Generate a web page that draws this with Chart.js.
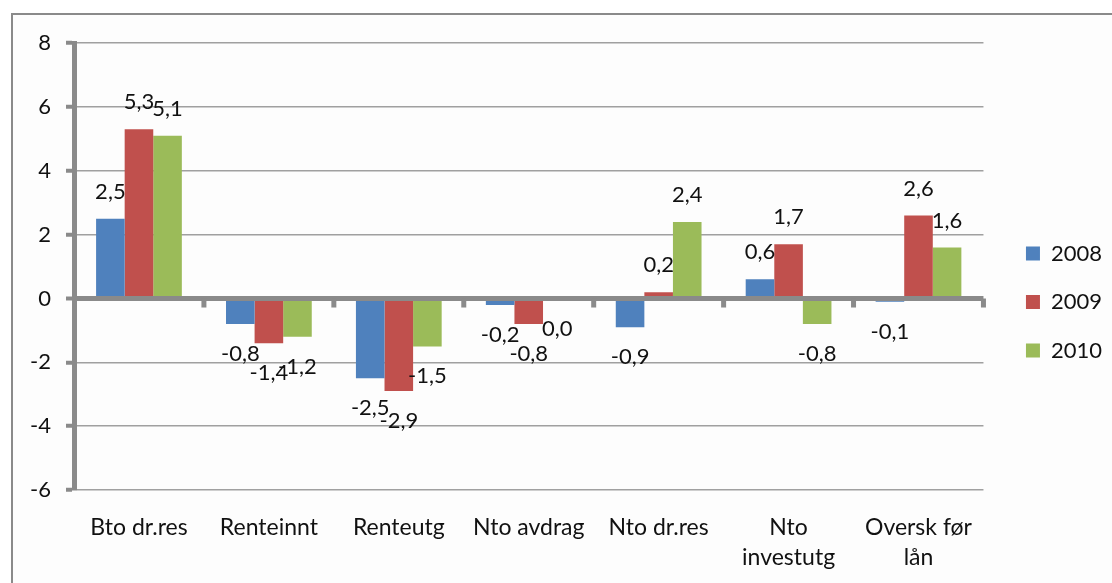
<!DOCTYPE html>
<html>
<head>
<meta charset="utf-8">
<script src="https://cdn.jsdelivr.net/npm/chart.js@4.4.0/dist/chart.umd.min.js"></script>
<style>
  body { margin: 0; background: #fff; }
  #frame {
    position: absolute; left: 11px; top: 13px;
    width: 1101px; height: 570px;
    border-top: 2px solid #8a8a8a; border-left: 2px solid #8a8a8a;
    background: #fdfdfd;
  }
  #frame canvas { display: block; }
</style>
</head>
<body>
<div id="frame"><canvas id="chart" width="1099" height="568"></canvas></div>
<script>
var categories = ["Bto dr.res", "Renteinnt", "Renteutg", "Nto avdrag", "Nto dr.res", ["Nto", "investutg"], ["Oversk før", "lån"]];
var years = ["2008", "2009", "2010"];
var v2008 = [2.5, -0.8, -2.5, -0.2, -0.9, 0.6, -0.1];
var v2009 = [5.3, -1.4, -2.9, -0.8, 0.2, 1.7, 2.6];
var v2010 = [5.1, -1.2, -1.5, 0.0, 2.4, -0.8, 1.6];
var yTicks = [-6, -4, -2, 0, 2, 4, 6, 8];

var axisGrey = "#8a8a8a";
var fontFamily = "Lato, 'Open Sans', sans-serif";

// bar value labels, Excel style "outside end", decimal comma
var valueLabels = {
    id: 'valueLabels',
    afterDatasetsDraw: function(chart) {
        var ctx = chart.ctx;
        ctx.save();
        ctx.font = "22px " + fontFamily;
        ctx.fillStyle = "#111";
        ctx.textAlign = "center";
        ctx.textBaseline = "middle";
        chart.data.datasets.forEach(function(ds, i) {
            chart.getDatasetMeta(i).data.forEach(function(bar, j) {
                var v = ds.data[j];
                var txt = v.toFixed(1).replace(".", ",");
                var y = v > 0 ? bar.y - 27 : bar.y + 30;
                ctx.fillText(txt, bar.x, y);
            });
        });
        ctx.restore();
    }
};

// category tick marks hanging under the zero line
var zeroTicks = {
    id: 'zeroTicks',
    afterDraw: function(chart) {
        var x = chart.scales.x, y = chart.scales.y;
        var y0 = y.getPixelForValue(0);
        var step = x.getPixelForValue(1) - x.getPixelForValue(0);
        var ctx = chart.ctx;
        ctx.save();
        ctx.strokeStyle = axisGrey;
        ctx.lineWidth = 5;
        for (var i = 0; i < categories.length; i++) {
            var px = x.getPixelForValue(i) + step / 2;
            ctx.beginPath();
            ctx.moveTo(px, y0);
            ctx.lineTo(px, y0 + 9);
            ctx.stroke();
        }
        ctx.restore();
    }
};

new Chart(document.getElementById("chart"), {
    type: 'bar',
    data: {
        labels: categories,
        datasets: [
            { label: years[0], data: v2008, backgroundColor: "#4f81bd" },
            { label: years[1], data: v2009, backgroundColor: "#c0504d" },
            { label: years[2], data: v2010, backgroundColor: "#9bbb59" }
        ]
    },
    options: {
        responsive: false,
        animation: false,
        layout: { padding: { top: 28, right: 0, bottom: 0, left: 0 } },
        datasets: { bar: { categoryPercentage: 0.66, barPercentage: 1.0 } },
        scales: {
            x: {
                grid: { display: false, drawTicks: false },
                border: { display: false },
                ticks: { color: "#111", padding: 23, font: { family: fontFamily, size: 23, lineHeight: 1.3 }, maxRotation: 0, autoSkip: false },
                afterFit: function(s) { s.height = 93; }
            },
            y: {
                min: -6, max: 8,
                afterBuildTicks: function(s) { s.ticks = yTicks.map(function(v) { return { value: v }; }); },
                grid: {
                    color: function(c) { return c.tick && c.tick.value === 0 ? axisGrey : "#a0a0a0"; },
                    lineWidth: function(c) { return c.tick && c.tick.value === 0 ? 5 : 1.5; },
                    tickLength: 8, tickColor: axisGrey, tickWidth: 4
                },
                border: { display: true, color: axisGrey, width: 5 },
                ticks: { color: "#111", padding: 15, font: { family: fontFamily, size: 22 } },
                afterFit: function(s) { s.width = 61; }
            },
            // empty spacer between plot and legend
            gap: {
                type: 'linear', position: 'right', min: 0, max: 1,
                grid: { display: false, drawTicks: false },
                border: { display: false },
                ticks: { display: false },
                afterFit: function(s) { s.width = 16; }
            }
        },
        plugins: {
            legend: {
                position: 'right',
                align: 'start',
                // blank title only pushes the items down
                title: { display: true, text: ' ', font: { size: 10 }, padding: { top: 161, bottom: 0 } },
                labels: { boxWidth: 14, boxHeight: 14, padding: 26.5, color: "#111", font: { family: fontFamily, size: 22 } }
            },
            tooltip: { enabled: false }
        }
    },
    plugins: [valueLabels, zeroTicks]
});
</script>
</body>
</html>
